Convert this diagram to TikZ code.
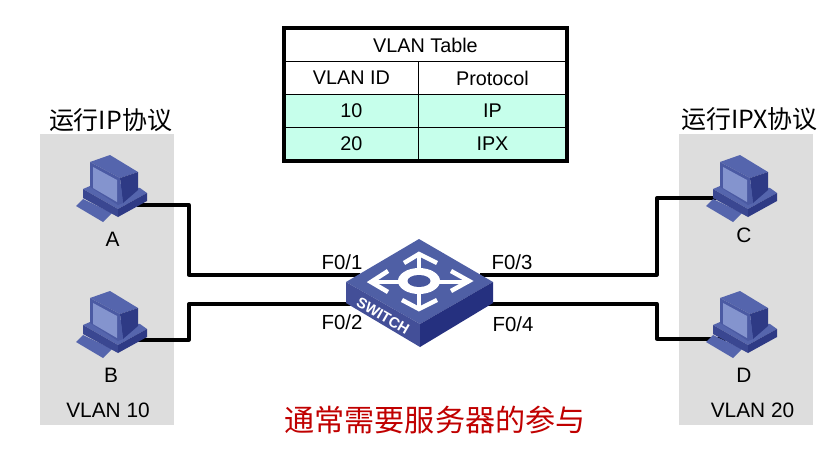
\documentclass[tikz,border=0pt]{standalone}
\usepackage{fontspec}
\setmainfont{Liberation Sans}
\newfontfamily\cjk{Noto Sans CJK SC}
\usetikzlibrary{positioning}
\definecolor{swtop}{HTML}{4F5FA5}
\definecolor{swleft}{HTML}{434F98}
\definecolor{swright}{HTML}{25307F}
\definecolor{pcmid}{HTML}{5565AD}
\definecolor{pcdark}{HTML}{2E3A85}
\definecolor{pcscreen}{HTML}{8494CE}
\definecolor{zonegray}{HTML}{DDDDDD}
\definecolor{rowgreen}{HTML}{C6FFEB}
\definecolor{notered}{HTML}{C00000}
\tikzset{
	label/.style={font=\fontsize{17.8}{19}\selectfont,inner sep=0pt},
	zonetitle/.style={font=\cjk\fontsize{21.3}{24}\selectfont,inner sep=0pt},
	cell/.style={draw=black,line width=0.8pt,font=\fontsize{16.9}{18}\selectfont,minimum height=0.99cm,inner sep=0pt,anchor=north west},
	link/.style={draw=black,line width=2.8pt,line join=round},
	swarrow/.style={draw=white,line width=3.8pt},
	pics/pc/.style={code={
		\fill[pcmid] (-64,1) -- (-57,-6) -- (-28,8) -- (-37,17) -- cycle;
		\fill[pcmid] (-57,-16) -- (-22,4) -- (7,-12) -- (0,-17) -- (-50,-19) -- cycle;
		\fill[pcdark!70!pcmid] (-57,-16) -- (-22,4) -- (-22,12) -- (-57,-7) -- cycle;
		\fill[pcdark] (-22,4) -- (7,-12) -- (7,-4) -- (-22,12) -- cycle;
		\fill[pcmid] (-50,-43) -- (-30,-50) -- (-2,-33) -- (-20,-27) -- cycle;
		\fill[pcdark] (-20,-27) -- (-2,-33) -- (-2,-15) -- (-17,-2) -- cycle;
		\fill[pcmid!75!pcdark] (-50,-43) -- (-20,-27) -- (-17,-2) -- (-22,0) -- (-50,-18) -- cycle;
		\fill[pcscreen] (-47,-38) -- (-23,-25) -- (-23,-3) -- (-47,-17) -- cycle;
	}}
}
\begin{document}
\begin{tikzpicture}[x=0.03cm,y=-0.03cm]
		\useasboundingbox (0,0) rectangle (829,469);
		% gray zones
		\fill[zonegray] (40,134) rectangle (174,425);
		\fill[zonegray] (679,134) rectangle (813,425);
		\node[zonetitle] (titleL) at (110.5,120) {运行IP协议};
		\node[zonetitle] (titleR) at (749.5,119) {运行IPX协议};
		\node[label] (vlanL) at (108,410) {VLAN 10};
		\node[label] (vlanR) at (752.5,410) {VLAN 20};

		% table
		\node[cell,minimum width=8.46cm,fill=white] (thead) at (284,28) {VLAN Table};
		\node[cell,minimum width=4.02cm,fill=white] (cid) at (284,61) {VLAN ID};
		\node[cell,minimum width=4.44cm,fill=white] (cproto) at (418,61) {Protocol};
		\node[cell,minimum width=4.02cm,fill=rowgreen] (c10) at (284,94) {10};
		\node[cell,minimum width=4.44cm,fill=rowgreen] (cip) at (418,94) {IP};
		\node[cell,minimum width=4.02cm,fill=rowgreen] (c20) at (284,127) {20};
		\node[cell,minimum width=4.44cm,fill=rowgreen] (cipx) at (418,127) {IPX};
		\draw[line width=2.8pt] (thead.north west) rectangle (cipx.south east);

		% hosts
		\coordinate (pcA) at (140,205);
		\coordinate (pcB) at (140,341);
		\coordinate (pcC) at (770,205);
		\coordinate (pcD) at (770,341);
		\coordinate (portA) at (137,205);
		\coordinate (portB) at (137,340);
		\coordinate (portC) at (725,198);
		\coordinate (portD) at (725,339);
		\coordinate (swA) at (360,275);
		\coordinate (swB) at (360,304);
		\coordinate (swC) at (480,275);
		\coordinate (swD) at (480,304);

		% links
		\draw[link] (portA) -| (189,275) -- (swA);
		\draw[link] (portB) -| (189,304) -- (swB);
		\draw[link] (portC) -| (657,275) -- (swC);
		\draw[link] (portD) -| (657,304) -- (swD);

		\pic at (pcA) {pc};
		\pic at (pcB) {pc};
		\pic at (pcC) {pc};
		\pic at (pcD) {pc};
		\node[label] (labA) at (112.5,239) {A};
		\node[label] (labB) at (111,375) {B};
		\node[label] (labC) at (744,235) {C};
		\node[label] (labD) at (744,375) {D};

		% switch
		\fill[swtop] (419,239) -- (493,282) -- (420,324) -- (346,282) -- cycle;
		\fill[swleft] (346,282) -- (420,324) -- (420,347) -- (346,303) -- cycle;
		\fill[swright] (493,282) -- (420,324) -- (420,347) -- (493,303) -- cycle;
		\draw[swarrow] (419,254) -- (419,309);
		\draw[swarrow] (371,282) -- (469,282);
		\draw[swarrow] (404,263) -- (419,254) -- (437,263);
		\draw[swarrow] (402,300) -- (419,309) -- (437,300);
		\draw[swarrow] (388,271) -- (371,282) -- (388,292);
		\draw[swarrow] (451,271) -- (469,281) -- (451,291);
		\fill[white] (419,281) ellipse [x radius=21,y radius=13];
		\fill[swtop!80!swright] (419,281) ellipse [x radius=11.5,y radius=6];
		\node[font=\bfseries\fontsize{12.6}{13}\selectfont,text=white,inner sep=0pt,rotate=-30] (swname) at (383,316) {SWITCH};

		\node[label,font=\fontsize{17.4}{19}\selectfont] (f1) at (342,262) {F0/1};
		\node[label,font=\fontsize{17.4}{19}\selectfont] (f2) at (342,322) {F0/2};
		\node[label,font=\fontsize{17.4}{19}\selectfont] (f3) at (512,262) {F0/3};
		\node[label,font=\fontsize{17.4}{19}\selectfont] (f4) at (513,324) {F0/4};

		\node[font=\cjk\fontsize{25.7}{28}\selectfont,text=notered,inner sep=0pt] (note) at (435,420) {通常需要服务器的参与};
\end{tikzpicture}
\end{document}
